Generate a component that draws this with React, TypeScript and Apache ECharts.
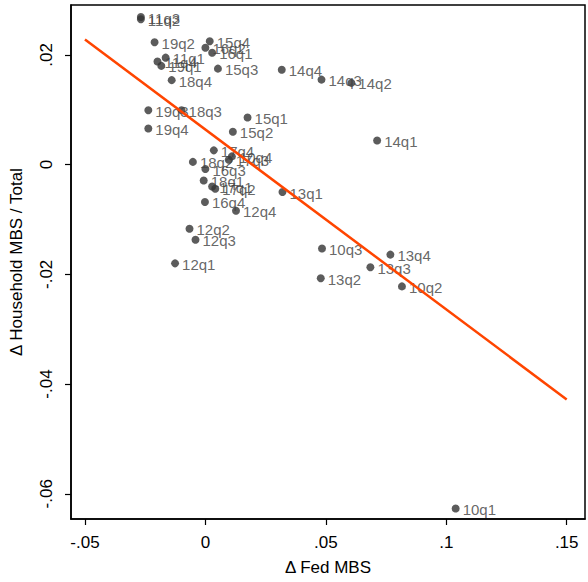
import React, { useEffect, useRef } from "react";
import * as echarts from "echarts";

const names = [
  "10q1", "10q2", "10q3", "10q4",
  "11q1", "11q2", "11q3", "11q4",
  "12q1", "12q2", "12q3", "12q4",
  "13q1", "13q2", "13q3", "13q4",
  "14q1", "14q2", "14q3", "14q4",
  "15q1", "15q2", "15q3", "15q4",
  "16q1", "16q2", "16q3", "16q4",
  "17q1", "17q2", "17q3", "17q4",
  "18q1", "18q2", "18q3", "18q4",
  "19q1", "19q2", "19q3", "19q4",
];
const fedMBS = [
  0.1039, 0.0816, 0.0484, 0.011,
  -0.0165, -0.0268, -0.0268, -0.0199,
  -0.0126, -0.0066, -0.0041, 0.0127,
  0.032, 0.0479, 0.0685, 0.0768,
  0.0713, 0.0606, 0.0482, 0.0317,
  0.0175, 0.0114, 0.0052, 0.0018,
  0.0028, 0.0, 0.0, -0.0002,
  0.0028, 0.0041, 0.0097, 0.0035,
  -0.0007, -0.0052, -0.0099, -0.014,
  -0.0183, -0.0211, -0.0237, -0.0237,
];
const householdShare = [
  -0.0627, -0.0222, -0.0153, 0.0015,
  0.0195, 0.0265, 0.0269, 0.0188,
  -0.018, -0.0117, -0.0137, -0.0084,
  -0.005, -0.0207, -0.0187, -0.0164,
  0.0044, 0.0149, 0.0155, 0.0173,
  0.0086, 0.006, 0.0175, 0.0225,
  0.0204, 0.0213, -0.0008, -0.0068,
  -0.004, -0.0044, 0.0009, 0.0026,
  -0.0029, 0.0005, 0.0099, 0.0154,
  0.018, 0.0223, 0.0099, 0.0066,
];
const fitX = [-0.05, 0.15];
const fitY = [0.0228, -0.0428];
const xTicks = [-0.05, 0, 0.05, 0.1, 0.15];
const yTicks = [-0.06, -0.04, -0.02, 0, 0.02];

const fmt = (v: number) => String(v).replace("0.", ".");

export default function App() {
  const ref = useRef<HTMLDivElement>(null);
  useEffect(() => {
    if (!ref.current) return;
    const chart = echarts.init(ref.current, null, { renderer: "svg" });
    const font = "'Liberation Sans', Arial, Helvetica, sans-serif";
    chart.setOption({
      animation: false,
      backgroundColor: "#ffffff",
      textStyle: { fontFamily: font },
      grid: {
        left: 68,
        top: 5,
        width: 517,
        height: 514,
        show: true,
        borderColor: "#000",
        borderWidth: 1.5,
        backgroundColor: "#ffffff",
      },
      xAxis: {
        type: "value",
        min: -0.0558,
        max: 0.1576,
        name: "Δ Fed MBS",
        nameLocation: "middle",
        nameGap: 40,
        nameTextStyle: { fontSize: 17, color: "#000", fontFamily: font },
        splitLine: { show: false },
        axisLine: { show: true, onZero: false, lineStyle: { color: "#000", width: 1.5 } },
        axisTick: {
          show: true,
          length: 6,
          customValues: xTicks,
          lineStyle: { color: "#000", width: 1.2 },
        },
        axisLabel: {
          customValues: xTicks,
          formatter: (v: number) => fmt(v),
          fontSize: 17,
          color: "#000",
          margin: 15,
          fontFamily: font,
        },
      },
      yAxis: {
        type: "value",
        min: -0.0646,
        max: 0.0291,
        name: "Δ Household MBS / Total",
        nameLocation: "middle",
        nameGap: 46,
        nameTextStyle: { fontSize: 17, color: "#000", fontFamily: font },
        splitLine: { show: false },
        axisLine: { show: true, onZero: false, lineStyle: { color: "#000", width: 1.5 } },
        axisTick: {
          show: true,
          length: 6,
          customValues: yTicks,
          lineStyle: { color: "#000", width: 1.2 },
        },
        axisLabel: {
          customValues: yTicks,
          formatter: (v: number) => fmt(v),
          rotate: 90,
          fontSize: 17,
          color: "#000",
          margin: 16,
          fontFamily: font,
        },
      },
      series: [
        {
          type: "scatter",
          symbol: "circle",
          symbolSize: 8,
          itemStyle: { color: "#333333" },
          data: fedMBS.map((x, i) => ({ value: [x, householdShare[i]], name: names[i] })),
          label: {
            show: true,
            position: "right",
            distance: 3,
            offset: [0, 1],
            formatter: (p: any) => p.name,
            fontSize: 15,
            color: "#404040",
            fontFamily: font,
          },
          z: 3,
        },
        {
          type: "line",
          data: fitX.map((x, i) => [x, fitY[i]]),
          showSymbol: false,
          symbol: "none",
          lineStyle: { color: "#ff4500", width: 2.5 },
          z: 4,
        },
      ],
    });
    return () => chart.dispose();
  }, []);
  return (
    <div
      ref={ref}
      style={{ position: "fixed", left: 0, top: 0, width: 588, height: 582, background: "#fff" }}
    />
  );
}
